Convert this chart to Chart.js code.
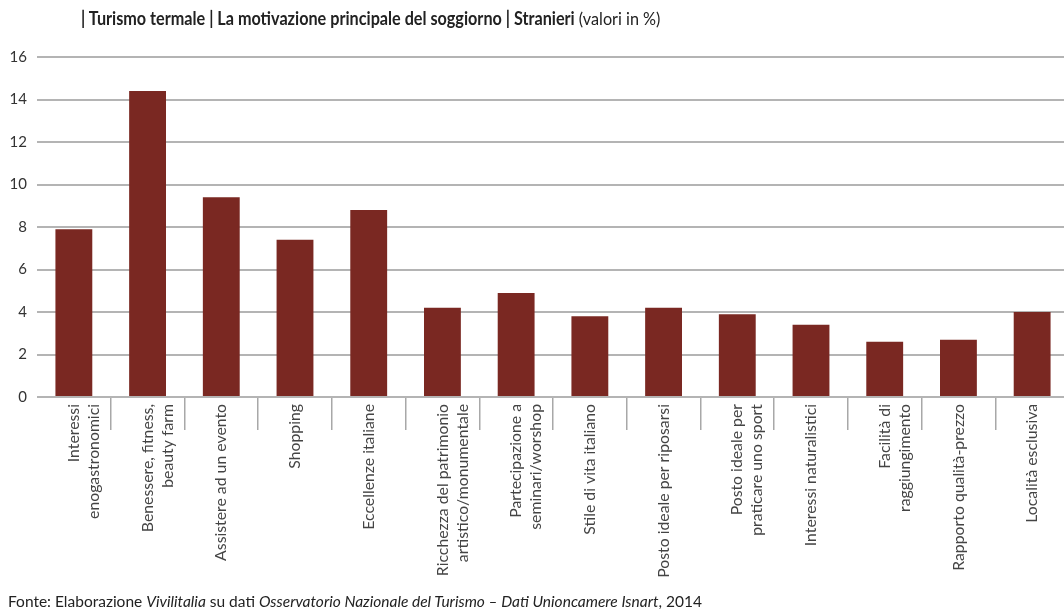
<!DOCTYPE html>
<html>
<head>
<meta charset="utf-8">
<script src="https://cdn.jsdelivr.net/npm/chart.js@4/dist/chart.umd.min.js"></script>
<style>
  html, body { margin: 0; padding: 0; background: #fff; overflow: hidden; width: 1064px; height: 612px; }
  .title { position: absolute; left: 81px; top: 7px; font-family: Lato, sans-serif; font-size: 18px; color: #222; white-space: nowrap; transform: scaleX(0.9); transform-origin: left top; }
  .title b { font-weight: 700; }
  .wrap { position: absolute; left: 0; top: 0; width: 1070px; height: 612px; }
  .source { position: absolute; left: 8px; top: 592px; font-family: Lato, sans-serif; font-size: 15.5px; color: #222; white-space: nowrap; }
</style>
</head>
<body>
<div class="wrap"><canvas id="termaleChart"></canvas></div>
<div class="title"><b>| Turismo termale | La motivazione principale del soggiorno | Stranieri</b> (valori in %)</div>
<div class="source">Fonte: Elaborazione <i>Vivilitalia</i> su dati <i>Osservatorio Nazionale del Turismo – Dati Unioncamere Isnart</i>, 2014</div>
<script>
// motivazioni (etichette asse x)
const motivazioni = [
    ['Interessi', 'enogastronomici'],
    ['Benessere, fitness,', 'beauty farm'],
    'Assistere ad un evento',
    'Shopping',
    'Eccellenze italiane',
    ['Ricchezza del patrimonio', 'artistico/monumentale'],
    ['Partecipazione a', 'seminari/worshop'],
    'Stile di vita italiano',
    'Posto ideale per riposarsi',
    ['Posto ideale per', 'praticare uno sport'],
    'Interessi naturalistici',
    ['Facilità di', 'raggiungimento'],
    'Rapporto qualità-prezzo',
    'Località esclusiva'
];

// valori in %
const stranieri = [7.9, 14.4, 9.4, 7.4, 8.8, 4.2, 4.9, 3.8, 4.2, 3.9, 3.4, 2.6, 2.7, 4.0];

const yTicks = [0, 2, 4, 6, 8, 10, 12, 14, 16];

const barColor = '#7a2822';
const gridColor = '#b4b4b4';

new Chart(document.getElementById('termaleChart').getContext('2d'), {
    type: 'bar',
    data: {
        labels: motivazioni,
        datasets: [{
            label: 'Stranieri',
            data: stranieri,
            backgroundColor: barColor,
            barPercentage: 0.5,
            categoryPercentage: 1
        }]
    },
    options: {
        responsive: true,
        maintainAspectRatio: false,
        animation: false,
        layout: { padding: { top: 57, right: 1, left: 0, bottom: 0 } },
        plugins: {
            legend: { display: false },
            tooltip: { enabled: false }
        },
        scales: {
            x: {
                offset: true,
                border: { display: false },
                grid: {
                    drawOnChartArea: false,
                    offset: true,
                    tickLength: 33,
                    lineWidth: 1.5,
                    // niente separatori ai bordi
                    color: (ctx) => (ctx.type !== 'tick' || ctx.index === 0) ? 'rgba(0,0,0,0)' : '#a8a8a8'
                },
                ticks: {
                    autoSkip: false,
                    minRotation: 90,
                    maxRotation: 90,
                    padding: -26,
                    color: '#444',
                    font: { family: 'Lato', size: 15.8, lineHeight: 1.27 }
                },
                afterFit: (scale) => { scale.height = 215; }
            },
            y: {
                min: 0,
                max: 16,
                border: { display: false },
                afterBuildTicks: (scale) => { scale.ticks = yTicks.map(v => ({ value: v })); },
                grid: {
                    color: gridColor,
                    lineWidth: 2,
                    drawTicks: false
                },
                ticks: {
                    padding: 10,
                    color: '#333',
                    font: { family: 'Lato', size: 15 }
                },
                afterFit: (scale) => { scale.width = 37; }
            }
        }
    }
});
</script>
</body>
</html>
